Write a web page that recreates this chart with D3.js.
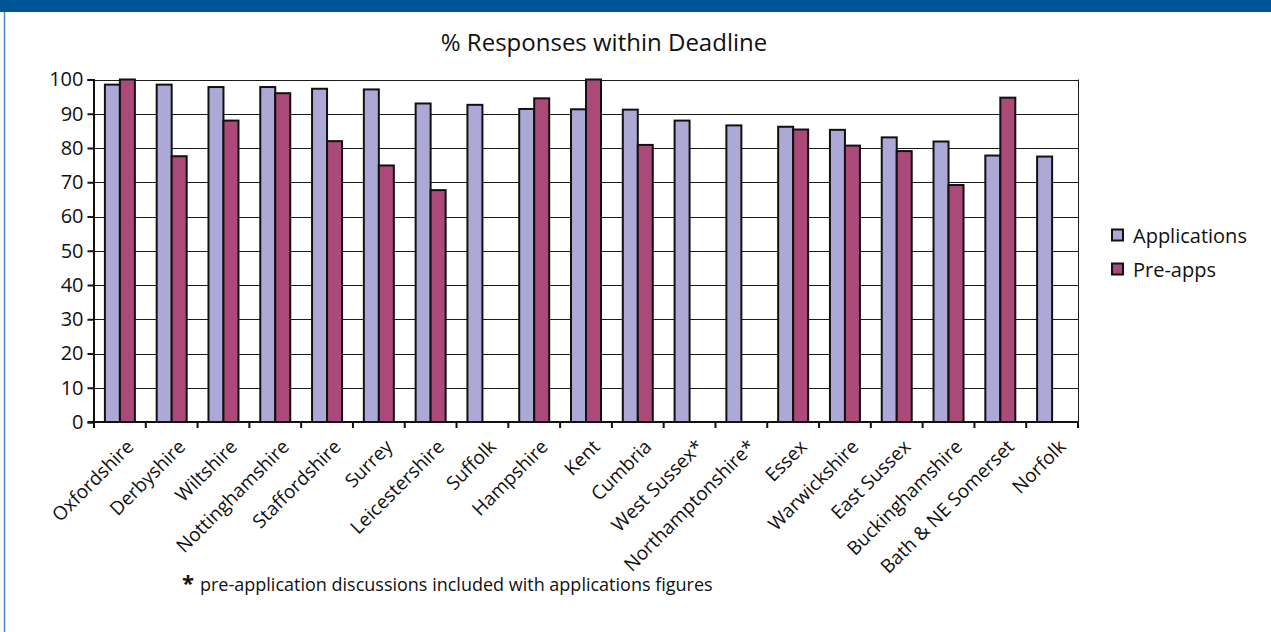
<!DOCTYPE html>
<html>
<head>
<meta charset="utf-8">
<script src="https://cdn.jsdelivr.net/npm/d3@7"></script>
<style>
  html, body { margin: 0; padding: 0; background: #fff; }
  svg { display: block; font-family: "Open Sans", "Noto Sans", sans-serif; }
</style>
</head>
<body>
<svg id="chart" width="1271" height="632"></svg>
<script>
// Authorities, in ranked order of applications answered on time
const categories = [
  "Oxfordshire", "Derbyshire", "Wiltshire", "Nottinghamshire", "Staffordshire",
  "Surrey", "Leicestershire", "Suffolk", "Hampshire", "Kent", "Cumbria",
  "West Sussex*", "Northamptonshire*", "Essex", "Warwickshire", "East Sussex",
  "Buckinghamshire", "Bath & NE Somerset", "Norfolk"
];
// % of planning applications answered within deadline
const applications = [98.5, 98.5, 97.8, 97.8, 97.3, 97.1, 93.0, 92.6, 91.4, 91.3,
  91.2, 88.0, 86.6, 86.2, 85.3, 83.1, 81.9, 77.8, 77.5];
// % of pre-application enquiries answered within deadline (null = not reported separately)
const preApps = [100, 77.6, 88.0, 96.0, 82.0, 74.9, 67.7, null, 94.5, 100,
  80.9, null, null, 85.4, 80.7, 79.1, 69.2, 94.7, null];
const seriesNames = ["Applications", "Pre-apps"];
const yTicks = [0, 10, 20, 30, 40, 50, 60, 70, 80, 90, 100];

const colors = { "Applications": "#aca9d6", "Pre-apps": "#ab4979" };

const svg = d3.select("#chart");
const W = 1271, H = 632;
const plot = { left: 94, right: 1078, top: 79.5, bottom: 422 };

// Header band and left frame rule
svg.append("rect").attr("x", 0).attr("y", 0).attr("width", W).attr("height", 12)
  .attr("fill", "#005596");
svg.append("line").attr("x1", 4.5).attr("x2", 4.5).attr("y1", 12).attr("y2", H)
  .attr("stroke", "#4f86c6").attr("stroke-width", 1.5);

// Title
svg.append("text")
  .attr("x", 604).attr("y", 51)
  .attr("text-anchor", "middle")
  .attr("font-size", 24)
  .attr("font-weight", 500)
  .attr("fill", "#111")
  .text("% Responses within Deadline");

const x0 = d3.scaleBand().domain(categories).range([plot.left, plot.right]).padding(0);
const x1 = d3.scaleBand().domain(seriesNames).range([0, x0.bandwidth()])
  .paddingInner(0).paddingOuter(0.727);
const y = d3.scaleLinear().domain([0, 100]).range([plot.bottom, plot.top]);

// Horizontal gridlines
svg.append("g").selectAll("line").data(yTicks.filter(d => d > 0)).join("line")
  .attr("x1", plot.left).attr("x2", plot.right)
  .attr("y1", d => Math.round(y(d)) + 0.5).attr("y2", d => Math.round(y(d)) + 0.5)
  .attr("stroke", "#1a1a1a").attr("stroke-width", 1);

// Right edge of the plot area
svg.append("line")
  .attr("x1", plot.right + 0.5).attr("x2", plot.right + 0.5)
  .attr("y1", plot.top).attr("y2", plot.bottom)
  .attr("stroke", "#1a1a1a").attr("stroke-width", 1);

// Bars
const rows = categories.map((c, i) => ({
  cat: c,
  values: [
    { key: "Applications", value: applications[i] },
    { key: "Pre-apps", value: preApps[i] }
  ].filter(v => v.value != null)
}));

const groups = svg.append("g").selectAll("g").data(rows).join("g")
  .attr("transform", d => `translate(${x0(d.cat)},0)`);

groups.selectAll("rect").data(d => d.values).join("rect")
  .attr("x", d => x1(d.key))
  .attr("y", d => y(d.value))
  .attr("width", x1.bandwidth())
  .attr("height", d => y(0) - y(d.value))
  .attr("fill", d => colors[d.key])
  .attr("stroke", "#111")
  .attr("stroke-width", 2);

// Y axis
const yAxis = d3.axisLeft(y).tickValues(yTicks).tickSize(6).tickPadding(4);
const gy = svg.append("g").attr("transform", `translate(${plot.left - 0.5},0)`).call(yAxis);
gy.select(".domain").attr("stroke", "#111").attr("stroke-width", 2);
gy.selectAll(".tick line").attr("stroke", "#111").attr("stroke-width", 2);
gy.selectAll(".tick text").attr("font-size", 20).attr("fill", "#111")
  .attr("font-family", "'Open Sans', sans-serif");

// X axis baseline with ticks at category boundaries
const gx = svg.append("g");
gx.append("line")
  .attr("x1", plot.left - 6).attr("x2", plot.right + 1)
  .attr("y1", plot.bottom).attr("y2", plot.bottom)
  .attr("stroke", "#111").attr("stroke-width", 2);
const bounds = categories.map(c => x0(c)).concat([plot.right]);
gx.selectAll("line.tk").data(bounds).join("line").attr("class", "tk")
  .attr("x1", d => d).attr("x2", d => d)
  .attr("y1", plot.bottom).attr("y2", plot.bottom + 6)
  .attr("stroke", "#111").attr("stroke-width", 2);

// Category labels, slanted
gx.selectAll("text").data(categories).join("text")
  .attr("transform", d => `translate(${x0(d) + x0.bandwidth() / 2 + 10},${plot.bottom + 21}) rotate(-45)`)
  .attr("text-anchor", "end")
  .attr("dominant-baseline", "central")
  .attr("font-size", 19)
  .attr("fill", "#111")
  .text(d => d);

// Legend
const legend = svg.append("g").attr("transform", "translate(1112,235)");
seriesNames.forEach((s, i) => {
  const g = legend.append("g").attr("transform", `translate(0,${i * 34})`);
  g.append("rect").attr("x", 0).attr("y", -5.5).attr("width", 11).attr("height", 11)
    .attr("fill", colors[s]).attr("stroke", "#111").attr("stroke-width", 2);
  g.append("text").attr("x", 21).attr("y", 0).attr("dominant-baseline", "central")
    .attr("font-size", 20).attr("fill", "#111").text(s);
});

// Footnote
const foot = svg.append("text").attr("x", 182).attr("y", 591)
  .attr("font-size", 18).attr("fill", "#111");
foot.append("tspan").attr("font-weight", 700).attr("font-size", 22).text("*");
foot.append("tspan").attr("dx", 6).text("pre-application discussions included with applications figures");
</script>
</body>
</html>
